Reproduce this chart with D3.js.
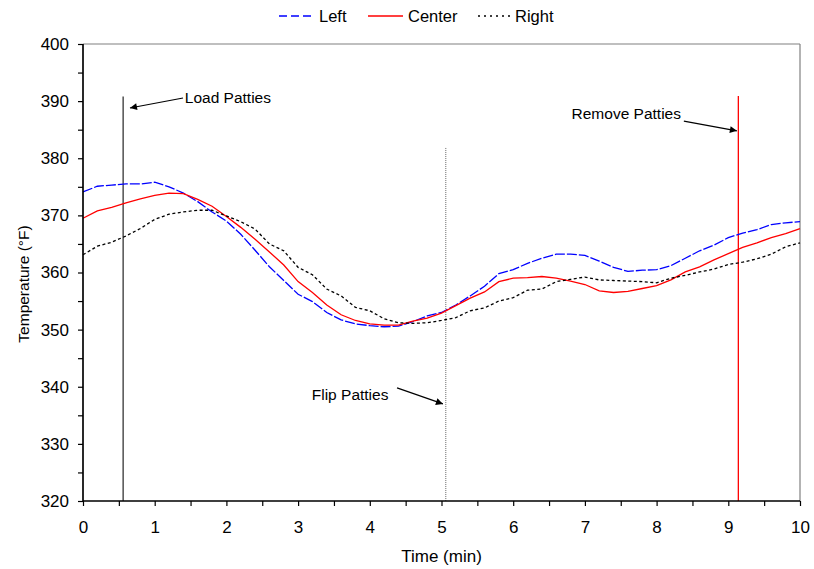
<!DOCTYPE html>
<html>
<head>
<meta charset="utf-8">
<script src="https://cdn.jsdelivr.net/npm/d3@7"></script>
<style>
  html, body { margin: 0; padding: 0; background: #fff; }
  svg { display: block; font-family: "Liberation Sans", Arial, sans-serif; }
</style>
</head>
<body>
<svg id="chart" width="814" height="569"></svg>
<script>
// ---- data ----
const times = [0,0.2,0.4,0.6,0.8,1.0,1.2,1.4,1.6,1.8,2.0,2.2,2.4,2.6,2.8,3.0,3.2,3.4,3.6,3.8,4.0,4.2,4.4,4.6,4.8,5.0,5.2,5.4,5.6,5.8,6.0,6.2,6.4,6.6,6.8,7.0,7.2,7.4,7.6,7.8,8.0,8.2,8.4,8.6,8.8,9.0,9.2,9.4,9.6,9.8,10.0];
const leftTemps = [374.1,375.1,375.3,375.5,375.5,375.8,375.0,373.9,372.4,370.6,369.0,366.7,363.9,361.0,358.6,356.2,354.9,353.0,351.7,351.0,350.7,350.5,350.6,351.4,352.4,353.0,354.3,355.9,357.6,359.8,360.5,361.6,362.5,363.2,363.2,363.0,362.0,360.9,360.2,360.4,360.5,361.2,362.5,363.8,364.8,366.1,366.9,367.5,368.4,368.7,368.9];
const centerTemps = [369.5,370.8,371.4,372.2,372.9,373.5,373.9,373.8,372.8,371.6,369.8,367.9,365.8,363.6,361.3,358.4,356.5,354.3,352.6,351.6,351.0,350.8,350.8,351.5,352.0,352.9,354.2,355.5,356.6,358.4,359.0,359.1,359.3,359.0,358.5,357.9,356.8,356.5,356.7,357.2,357.7,358.7,360.1,361.0,362.2,363.3,364.4,365.2,366.1,366.8,367.7];
const rightTemps = [363.1,364.6,365.3,366.4,367.7,369.3,370.2,370.6,370.9,370.9,369.9,368.9,367.6,365.0,363.8,360.9,359.6,357.1,355.9,353.9,353.3,351.9,351.2,351.1,351.2,351.6,352.1,353.3,353.8,355.0,355.6,356.9,357.1,358.4,358.8,359.2,358.7,358.6,358.5,358.4,358.2,359.0,359.5,360.1,360.6,361.4,361.8,362.4,363.2,364.5,365.2];

const seriesNames = ["Left", "Center", "Right"];
const xTicks = [0,1,2,3,4,5,6,7,8,9,10];
const xMinorTicks = [0.5,1.5,2.5,3.5,4.5,5.5,6.5,7.5,8.5,9.5];
const yTicks = [320,330,340,350,360,370,380,390,400];
const yMinorTicks = [325,335,345,355,365,375,385,395];

// events: time, top temperature
const eventNames = ["Load Patties", "Flip Patties", "Remove Patties"];
const eventTimes = [0.56, 5.06, 9.14];
const eventTops = [390.8, 381.8, 390.9];
// annotation arrows: [startT, startTemp, endT, endTemp]
const arrowStartT = [1.395, 4.38, 8.38];
const arrowStartTemp = [390.55, 339.8, 386.5];
const arrowEndT = [0.655, 5.02, 9.12];
const arrowEndTemp = [388.8, 337.0, 384.8];
// label anchor points
const labelT = [1.42, 4.26, 8.34];
const labelTemp = [389.6, 337.6, 386.9];

// ---- layout ----
const svg = d3.select("#chart");
const L = 83, R = 800, T = 44, B = 501;
const x = d3.scaleLinear().domain([0, 10]).range([L, R]);
const y = d3.scaleLinear().domain([320, 400]).range([B, T]);

const styles = {
  Left:   { color: "#0000ff", dash: "10,2", legendDash: "8,4", width: 1.3 },
  Center: { color: "#ff0000", dash: null, legendDash: null, width: 1.3 },
  Right:  { color: "#000000", dash: "3,2.5", legendDash: "2,4", width: 1.3 }
};

// frame top/right in gray
svg.append("line").attr("x1", L).attr("x2", R).attr("y1", T).attr("y2", T)
  .attr("stroke", "#808080").attr("stroke-width", 1.2);
svg.append("line").attr("x1", R).attr("x2", R).attr("y1", T).attr("y2", B)
  .attr("stroke", "#808080").attr("stroke-width", 1.2);

// event lines
const evStyles = [
  { color: "#505050", dash: null, width: 1.5 },
  { color: "#666666", dash: "1,1", width: 1 },
  { color: "#ff0000", dash: null, width: 1.3 }
];
eventTimes.forEach((t, i) => {
  svg.append("line")
    .attr("x1", x(t)).attr("x2", x(t))
    .attr("y1", y(eventTops[i])).attr("y2", y(320))
    .attr("stroke", evStyles[i].color)
    .attr("stroke-width", evStyles[i].width)
    .attr("stroke-dasharray", evStyles[i].dash);
});

// series
const data = { Left: leftTemps, Center: centerTemps, Right: rightTemps };
const line = d3.line().x((d, i) => x(times[i])).y(d => y(d));
seriesNames.forEach(name => {
  const s = styles[name];
  svg.append("path")
    .datum(data[name])
    .attr("d", line)
    .attr("fill", "none")
    .attr("stroke", s.color)
    .attr("stroke-width", s.width)
    .attr("stroke-dasharray", s.dash);
});

// axes
const axisFont = 17;
const yAxis = svg.append("g").attr("transform", `translate(${L},0)`)
  .call(d3.axisLeft(y).tickValues(yTicks).tickSize(5).tickPadding(9).tickFormat(d3.format("d")));
const yMinor = svg.append("g").attr("transform", `translate(${L},0)`)
  .call(d3.axisLeft(y).tickValues(yMinorTicks).tickSize(5).tickFormat(""));
const xAxis = svg.append("g").attr("transform", `translate(0,${B})`)
  .call(d3.axisBottom(x).tickValues(xTicks).tickSize(5).tickPadding(15).tickFormat(d3.format("d")));
const xMinor = svg.append("g").attr("transform", `translate(0,${B})`)
  .call(d3.axisBottom(x).tickValues(xMinorTicks).tickSize(5).tickFormat(""));
[yAxis, yMinor, xAxis, xMinor].forEach(g => {
  g.select(".domain").attr("stroke", "#000").attr("stroke-width", 1.2);
  g.selectAll(".tick line").attr("stroke", "#000").attr("stroke-width", 1.2);
  g.selectAll("text").attr("font-size", axisFont).attr("fill", "#000")
    .attr("font-family", "Liberation Sans, Arial, sans-serif");
});
[yAxis, yMinor].forEach(g => g.select(".domain").attr("d", `M0,${T}V${B}`));
[xAxis, xMinor].forEach(g => g.select(".domain").attr("d", `M${L},0H${R}`));

// axis titles
svg.append("text").attr("x", (L + R) / 2).attr("y", 562)
  .attr("text-anchor", "middle").attr("font-size", 17).text("Time (min)");
svg.append("text").attr("transform", `translate(29,284) rotate(-90)`)
  .attr("text-anchor", "middle").attr("font-size", 15.5).text("Temperature (°F)");

// annotations
svg.append("defs").append("marker")
  .attr("id", "arrow").attr("viewBox", "0 0 10 10")
  .attr("refX", 10).attr("refY", 5)
  .attr("markerWidth", 10).attr("markerHeight", 7)
  .attr("markerUnits", "userSpaceOnUse")
  .attr("orient", "auto")
  .append("path").attr("d", "M0,0L10,5L0,10Z").attr("fill", "#000");

const anchors = ["start", "end", "end"];
eventNames.forEach((name, i) => {
  svg.append("line")
    .attr("x1", x(arrowStartT[i])).attr("y1", y(arrowStartTemp[i]))
    .attr("x2", x(arrowEndT[i])).attr("y2", y(arrowEndTemp[i]))
    .attr("stroke", "#000").attr("stroke-width", 1.2)
    .attr("marker-end", "url(#arrow)");
  svg.append("text")
    .attr("x", x(labelT[i])).attr("y", y(labelTemp[i]))
    .attr("text-anchor", anchors[i])
    .attr("font-size", 15.5).attr("fill", "#000")
    .text(name);
});

// legend
const legendX = [279, 368, 478];
const legendW = [35, 35, 32];
const legendY = 16;
seriesNames.forEach((name, i) => {
  const s = styles[name];
  svg.append("line")
    .attr("x1", legendX[i]).attr("x2", legendX[i] + legendW[i])
    .attr("y1", legendY).attr("y2", legendY)
    .attr("stroke", s.color).attr("stroke-width", s.width)
    .attr("stroke-dasharray", s.legendDash);
  svg.append("text")
    .attr("x", legendX[i] + legendW[i] + 5).attr("y", legendY + 6)
    .attr("font-size", 16.5).attr("fill", "#000")
    .text(name);
});
</script>
</body>
</html>
